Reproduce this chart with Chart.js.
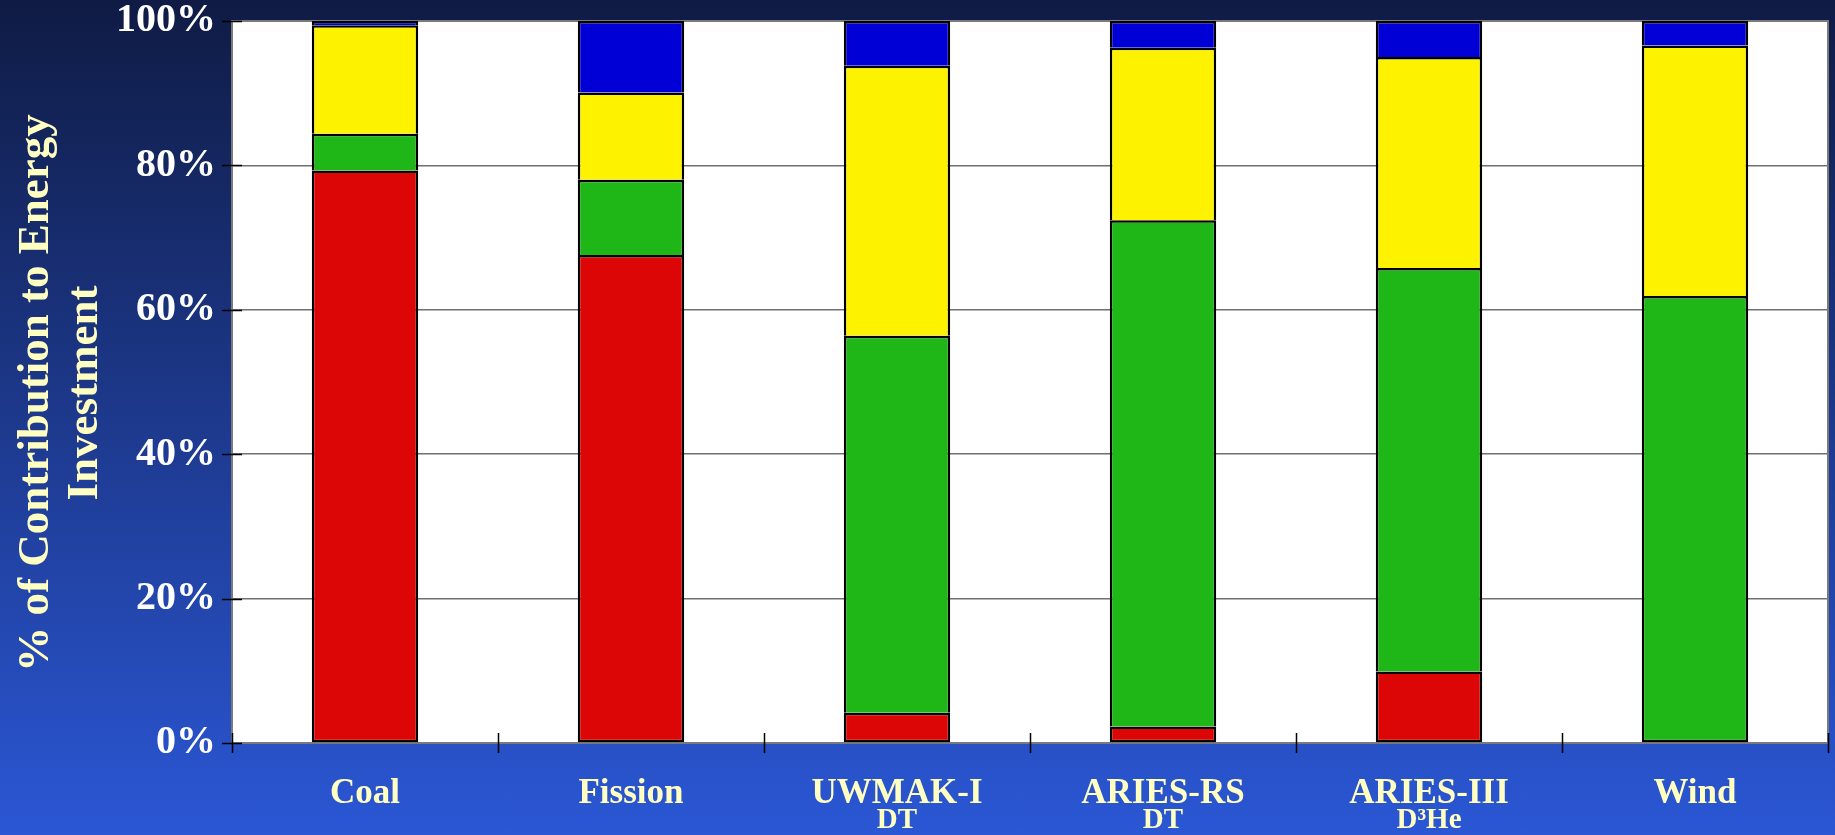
<!DOCTYPE html>
<html>
<head>
<meta charset="utf-8">
<script src="https://cdn.jsdelivr.net/npm/chart.js@4"></script>
<style>
  html, body { margin: 0; padding: 0; }
  body {
    width: 1835px;
    height: 835px;
    overflow: hidden;
    background: linear-gradient(to bottom, #0f1b44 0%, #2b57d5 100%);
  }
</style>
</head>
<body>
<canvas id="energyChart" width="1835" height="835"></canvas>
<script>
const categories = ['Coal', 'Fission', 'UWMAK-I', 'ARIES-RS', 'ARIES-III', 'Wind'];
const subLabels = ['', '', 'DT', 'DT', 'D³He', ''];

// share of energy investment, % of total per plant type
const fuel         = [79.3, 67.6,  4.2,  2.3,  9.9,  0.0];
const materials    = [ 5.1, 10.4, 52.2, 70.1, 55.9, 61.9];
const construction = [15.0, 12.1, 37.4, 23.9, 29.2, 34.7];
const operation    = [ 0.6,  9.9,  6.2,  3.7,  5.0,  3.4];

const yTicks = [0, 20, 40, 60, 80, 100];
const yTitle = ['% of Contribution to Energy', 'Investment'];

const serif = "'Liberation Serif', 'Times New Roman', serif";
const paleYellow = '#ffffc2';

const series = [fuel, materials, construction, operation];

// lowest non-empty segment of each column gets a bottom edge too
function skipEdge(ctx) {
  const i = ctx.dataIndex;
  for (let d = 0; d < series.length; d++) {
    if (series[d][i] > 0) return d === ctx.datasetIndex ? false : 'start';
  }
  return 'start';
}

const plotFrame = {
  id: 'plotFrame',
  beforeDraw(chart) {
    const { ctx, chartArea: a } = chart;
    ctx.save();
    ctx.fillStyle = '#ffffff';
    ctx.fillRect(a.left, a.top, a.right - a.left, a.bottom - a.top);
    ctx.restore();
  },
  beforeDatasetsDraw(chart) {
    const { ctx, chartArea: a } = chart;
    ctx.save();
    ctx.strokeStyle = '#7a7a7a';
    ctx.lineWidth = 2;
    ctx.strokeRect(a.left, a.top, a.right - a.left, a.bottom - a.top);
    ctx.restore();
  },
  afterDraw(chart) {
    const { ctx, chartArea: a, scales } = chart;
    const x = scales.x, y = scales.y;
    ctx.save();

    // tick marks cross both axes
    ctx.strokeStyle = '#000000';
    ctx.lineWidth = 1.5;
    ctx.beginPath();
    yTicks.forEach(v => {
      const py = Math.round(y.getPixelForValue(v)) + 0.5;
      ctx.moveTo(a.left - 10, py);
      ctx.lineTo(a.left + 10, py);
    });
    for (let i = 0; i <= categories.length; i++) {
      const px = Math.round(x.getPixelForValue(i - 0.5)) + 0.5;
      ctx.moveTo(px, a.bottom - 10);
      ctx.lineTo(px, a.bottom + 10);
    }
    ctx.stroke();

    // second line under some category names
    ctx.fillStyle = paleYellow;
    ctx.font = 'bold 29px ' + serif;
    ctx.textAlign = 'center';
    ctx.textBaseline = 'alphabetic';
    subLabels.forEach((s, i) => {
      if (s) ctx.fillText(s, x.getPixelForValue(i), a.bottom + 85);
    });

    // rotated y-axis title, two centred lines
    ctx.font = 'bold 45px ' + serif;
    ctx.textBaseline = 'middle';
    ctx.translate(36, (a.top + a.bottom) / 2 + 11);
    ctx.rotate(-Math.PI / 2);
    yTitle.forEach((line, i) => ctx.fillText(line, 0, i * 49));
    ctx.restore();
  }
};

const barStyle = {
  borderColor: '#000000',
  borderWidth: 2.5,
  borderSkipped: skipEdge,
  barPercentage: 0.4,
  categoryPercentage: 1.0
};

new Chart(document.getElementById('energyChart'), {
  type: 'bar',
  data: {
    labels: categories,
    datasets: [
      { label: 'Fuel', data: fuel, backgroundColor: '#dc0606', ...barStyle },
      { label: 'Materials', data: materials, backgroundColor: '#1fb718', ...barStyle },
      { label: 'Construction', data: construction, backgroundColor: '#fdf200', ...barStyle },
      { label: 'Operation', data: operation, backgroundColor: '#0000d6', ...barStyle }
    ]
  },
  options: {
    responsive: false,
    animation: false,
    devicePixelRatio: 1,
    layout: { padding: { top: 21, right: 7, bottom: 0, left: 0 } },
    plugins: {
      legend: { display: false },
      tooltip: { enabled: false }
    },
    scales: {
      x: {
        stacked: true,
        grid: { display: false },
        border: { display: false },
        ticks: {
          color: paleYellow,
          padding: 22,
          font: { family: serif, size: 35, weight: 'bold' }
        },
        afterFit(scale) { scale.height = 92; }
      },
      y: {
        stacked: true,
        min: 0,
        max: 100,
        grid: {
          color: '#707070',
          lineWidth: 1.5,
          tickLength: 16,
          tickColor: 'rgba(0,0,0,0)'
        },
        border: { display: false },
        ticks: {
          stepSize: 20,
          color: '#ffffff',
          padding: 0,
          font: { family: serif, size: 40, weight: 'bold', lineHeight: 1 },
          callback: v => v + '%'
        },
        afterFit(scale) { scale.width = 232; }
      }
    }
  },
  plugins: [plotFrame]
});
</script>
</body>
</html>
